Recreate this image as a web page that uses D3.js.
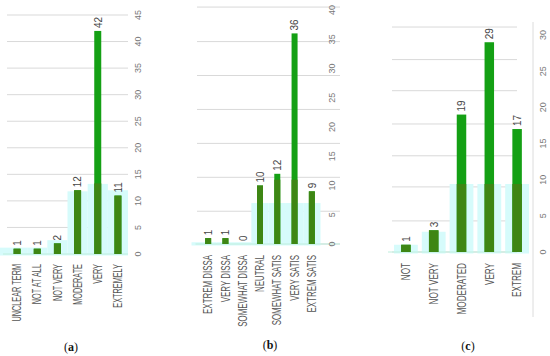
<!DOCTYPE html>
<html><head><meta charset="utf-8">
<script src="https://cdn.jsdelivr.net/npm/d3@7"></script>
<style>body{margin:0;background:#fff}svg{display:block}</style>
</head><body>
<script>
// ---- data ----
const catsA = ["UNCLEAR TERM","NOT AT ALL","NOT VERY","MODERATE","VERY","EXTREMELY"];
const valsA = [1,1,2,12,42,11];
const darkA = [1,1,2,12,13.3,11];
const shadeA = [1.2,1.2,2.6,11.8,13.2,12];
const ticksA = [0,5,10,15,20,25,30,35,40,45];
const gridA = [0,5,10,15,20,25,30,35,40,45];

const catsB = ["EXTREM DISSA","VERY DISSA","SOMEWHAT DISSA","NEUTRAL","SOMEWHAT SATIS","VERY SATIS","EXTREM SATIS"];
const valsB = [1,1,0,10,12,36,9];
const darkB = [1,1,0,10,11,11,9];
const shadeB = [0.3,0.3,0.3,7,7,7,7];
const ticksB = [0,5,10,15,20,25,30,35,40];
const gridB = [0,5.6,11.4,17.2,23,28.8,34.6,40.5];

const catsC = ["NOT","NOT VERY","MODERATED","VERY","EXTREM"];
const valsC = [1,3,19,29,17];
const darkC = [1,3,9.4,9.4,9.4];
const shadeC = [1,2.8,9.4,9.4,9.4];
const ticksC = [0,5,10,15,20,25,30];
const gridC = [0,4.3,9,13.3,17.7,22.3,26.6,31.1];

const panelLabels = ["a","b","c"];

// ---- drawing ----
const W = 550, H = 356;
const svg = d3.select("body").append("svg").attr("width", W).attr("height", H);

const BRIGHT = "#14a014", OLIVE = "#3e8614", SHADE = "#d6fbfb", GRID = "#d9d9d9";
const SANS = "'Liberation Sans', Arial, sans-serif";

function panel(cfg) {
  const g = svg.append("g");
  const x = d3.scaleBand().domain(cfg.cats).range(cfg.xr).padding(0);
  const y = d3.scaleLinear().domain(cfg.yd).range(cfg.yr);

  // gridlines
  g.selectAll("line.grid").data(cfg.grid).join("line")
    .attr("x1", cfg.gx[0]).attr("x2", cfg.gx[1])
    .attr("y1", d => y(d)).attr("y2", d => y(d))
    .attr("stroke", GRID).attr("stroke-width", 1);

  // shaded background
  g.selectAll("rect.shade").data(cfg.cats).join("rect")
    .attr("x", (d, i) => x(d) + cfg.shadePad - (i === 0 ? cfg.shadeLead : 0))
    .attr("width", (d, i) => x.bandwidth() - 2 * cfg.shadePad + (i === 0 ? cfg.shadeLead : 0))
    .attr("y", (d, i) => y(cfg.shade[i]))
    .attr("height", (d, i) => y(0) - y(cfg.shade[i]) + 1.5)
    .attr("fill", SHADE);

  // baseline
  g.append("line").attr("x1", cfg.xr[0] - 4).attr("x2", cfg.gx[1])
    .attr("y1", y(0)).attr("y2", y(0)).attr("stroke", "#bfeedd").attr("stroke-width", 1);

  const bw = cfg.barW;
  g.selectAll("rect.bar").data(cfg.cats).join("rect")
    .attr("x", d => x(d) + x.bandwidth() / 2 - bw / 2).attr("width", bw)
    .attr("y", (d, i) => y(cfg.vals[i]))
    .attr("height", (d, i) => y(0) - y(cfg.vals[i]))
    .attr("fill", BRIGHT);
  g.selectAll("rect.dark").data(cfg.cats).join("rect")
    .attr("x", d => x(d) + x.bandwidth() / 2 - bw / 2).attr("width", bw)
    .attr("y", (d, i) => y(Math.min(cfg.dark[i], cfg.vals[i])))
    .attr("height", (d, i) => y(0) - y(Math.min(cfg.dark[i], cfg.vals[i])))
    .attr("fill", OLIVE);

  // value labels
  g.selectAll("text.val").data(cfg.cats).join("text")
    .attr("transform", (d, i) => `translate(${x(d) + x.bandwidth() / 2},${y(cfg.vals[i]) - 3}) rotate(-90) scale(0.9,1)`)
    .attr("dy", "0.35em").attr("text-anchor", "start")
    .attr("font-family", SANS).attr("font-size", 11)
    .attr("fill", "#444").text((d, i) => cfg.vals[i]);

  // category labels
  g.selectAll("text.cat").data(cfg.cats).join("text")
    .attr("transform", d => `translate(${x(d) + x.bandwidth() / 2},${cfg.catY}) rotate(-90) scale(${cfg.catScale},1)`)
    .attr("dy", "0.35em").attr("text-anchor", "end")
    .attr("font-family", SANS).attr("font-size", 12)
    .attr("fill", "#555").text(d => d);

  // value-axis tick labels
  g.selectAll("text.tick").data(cfg.ticks).join("text")
    .attr("transform", d => `translate(${cfg.tickX},${y(d)}) rotate(-90)`)
    .attr("dy", "0.35em").attr("text-anchor", "middle")
    .attr("font-family", SANS).attr("font-size", 9)
    .attr("fill", "#777").text(d => d);

  if (cfg.axisLine) {
    g.append("line").attr("x1", cfg.axisLine[0]).attr("x2", cfg.axisLine[0])
      .attr("y1", cfg.axisLine[1]).attr("y2", cfg.axisLine[2])
      .attr("stroke", "#dcdcdc").attr("stroke-width", 1);
  }

  const t = svg.append("text").attr("x", cfg.labX).attr("y", cfg.labY)
    .attr("text-anchor", "middle")
    .attr("font-family", "'Liberation Serif', 'Times New Roman', serif").attr("font-size", 12)
    .attr("fill", "#111");
  t.append("tspan").text("(");
  t.append("tspan").attr("font-weight", "bold").text(cfg.label);
  t.append("tspan").text(")");
}

panel({cats: catsA, vals: valsA, dark: darkA, shade: shadeA, ticks: ticksA, grid: gridA,
  xr: [7, 128], yd: [0, 45], yr: [254, 15], gx: [7, 128], barW: 7, shadePad: 0, shadeLead: 7,
  catY: 264, catScale: 0.61, tickX: 138, label: panelLabels[0], labX: 71, labY: 351});

panel({cats: catsB, vals: valsB, dark: darkB, shade: shadeB, ticks: ticksB, grid: gridB,
  xr: [199.5, 320.5], yd: [0, 40], yr: [244, 10], gx: [197, 340], barW: 6, shadePad: 0, shadeLead: 8,
  catY: 255, catScale: 0.66, tickX: 332, label: panelLabels[1], labX: 270, labY: 349});

panel({cats: catsC, vals: valsC, dark: darkC, shade: shadeC, ticks: ticksC, grid: gridC,
  xr: [392, 531], yd: [0, 30], yr: [252, 35], gx: [392, 517], barW: 9.5, shadePad: 2, shadeLead: 0,
  catY: 263, catScale: 0.68, tickX: 543, axisLine: [533, 22, 317],
  label: panelLabels[2], labX: 468, labY: 350});
</script>
</body></html>
